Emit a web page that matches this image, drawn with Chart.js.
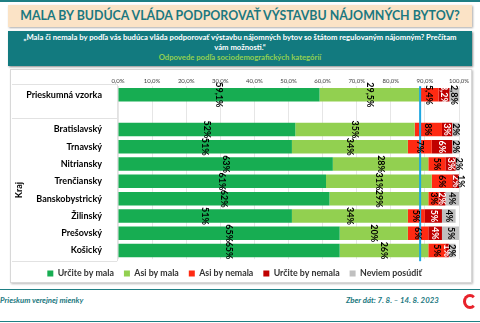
<!DOCTYPE html>
<html lang="sk">
<head>
<meta charset="UTF-8">
<title>Výstavba nájomných bytov</title>
<script src="https://cdn.jsdelivr.net/npm/chart.js@4.4.0/dist/chart.umd.min.js"></script>
<style>
  body { margin: 0; width: 480px; height: 323px; position: relative; overflow: hidden; background: #fff; font-family: Lato, "Open Sans", sans-serif; }
  .topline { position: absolute; left: 0; top: 0; width: 480px; height: 2px; background: #1f7f84; }
  .title { position: absolute; left: 8px; top: 5px; width: 464px; height: 22px; background: #fbe3c6;
           box-shadow: 1px 1px 2px #aaa; color: #1b7880; font-weight: bold; font-size: 12.4px;
           text-align: center; line-height: 22px; white-space: nowrap; }
  .question { position: absolute; left: 8px; top: 31px; width: 464px; height: 35px; background: #127a7f;
              box-shadow: 1px 1px 2px #888; color: #fff; font-weight: bold; font-size: 7.7px;
              text-align: center; line-height: 9.8px; padding-top: 2px; box-sizing: border-box; }
  .question .sub { color: #92d050; }
  .box { position: absolute; left: 10px; top: 69px; width: 462px; height: 214px; background: #fff;
         border: 1px solid #d8d8d8; box-shadow: 1px 1px 2px #bbb; box-sizing: border-box; }
  .chartwrap { position: absolute; left: 10px; top: 70px; width: 462px; height: 212px; }
  .foot1 { position: absolute; left: 0; top: 289px; width: 480px; height: 1px; background: #1f7f84; }
  .foot2 { position: absolute; left: 0; top: 321px; width: 480px; height: 1px; background: #1f7f84; }
  .ftext { position: absolute; top: 295px; font-size: 7.8px; font-style: italic; font-weight: bold; color: #1b7880; white-space: nowrap; }
  .logo { position: absolute; left: 463px; top: 294px; width: 8px; height: 9px; border: 3px solid #e8222b;
          border-radius: 50%; border-right-color: transparent; }
</style>
</head>
<body>
<div class="topline"></div>
<div class="title">MALA BY BUDÚCA VLÁDA PODPOROVAŤ VÝSTAVBU NÁJOMNÝCH BYTOV?</div>
<div class="question">„Mala či nemala by podľa vás budúca vláda podporovať výstavbu nájomných bytov so štátom regulovaným nájomným? Prečítam<br>vám možnosti.“<br><span class="sub">Odpovede podľa sociodemografických kategórií</span></div>
<div class="box"></div>
<div class="chartwrap"><canvas id="barChart"></canvas></div>
<div class="foot1"></div>
<div class="foot2"></div>
<div class="ftext" style="left:0px">Prieskum verejnej mienky</div>
<div class="ftext" style="left:346px">Zber dát: 7. 8. – 14. 8. 2023</div>
<div class="logo"></div>
<script>
var categories = ["Prieskumná vzorka", "", "Bratislavský", "Trnavský", "Nitriansky", "Trenčiansky", "Banskobystrický", "Žilinský", "Prešovský", "Košický"];
var seriesNames = ["Určite by mala", "Asi by mala", "Asi by nemala", "Určite by nemala", "Neviem posúdiť"];
var seriesColors = ["#17ad52", "#92d050", "#ff2a12", "#c00000", "#c0c0c0"];
var urciteMala   = [59.1, null, 52, 51, 63, 61, 62, 51, 65, 65];
var asiMala      = [29.5, null, 35, 34, 28, 31, 29, 34, 20, 26];
var asiNemala    = [5.4,  null, 8,  7,  5,  6,  3,  5,  6,  5];
var urciteNemala = [3.2,  null, 3,  6,  3,  2,  2,  5,  4,  1];
var neviem       = [2.8,  null, 2,  2,  2,  1,  4,  4,  5,  2];
var xTicks = [0, 10, 20, 30, 40, 50, 60, 70, 80, 90, 100];
var refLine = 88.6;
var groupLabel = "Kraj";

var allSeries = [urciteMala, asiMala, asiNemala, urciteNemala, neviem];
var datasets = [];
for (var i = 0; i < allSeries.length; i++) {
    datasets.push({
        label: seriesNames[i],
        data: allSeries[i],
        backgroundColor: seriesColors[i],
        categoryPercentage: 1,
        barPercentage: 0.78
    });
}

function fmt(v, row) {
    if (row === 0) return v.toFixed(1).replace('.', ',') + '%';
    return Math.round(v) + '%';
}

var extras = {
    id: 'extras',
    afterDatasetsDraw: function (chart) {
        var ctx = chart.ctx;
        var area = chart.chartArea;
        var xs = chart.scales.x, ys = chart.scales.y;
        // reference line
        var lx = xs.getPixelForValue(refLine);
        ctx.save();
        ctx.strokeStyle = '#1ea7e1';
        ctx.lineWidth = 2;
        ctx.beginPath();
        ctx.moveTo(lx, area.top);
        ctx.lineTo(lx, area.bottom + 2);
        ctx.stroke();
        ctx.restore();
        // rotated data labels
        ctx.save();
        ctx.font = 'bold 9px Lato';
        ctx.textAlign = 'center';
        ctx.textBaseline = 'middle';
        chart.data.datasets.forEach(function (ds, di) {
            var meta = chart.getDatasetMeta(di);
            meta.data.forEach(function (el, j) {
                var v = ds.data[j];
                if (v == null) return;
                var cx = (el.x + el.base) / 2;
                ctx.save();
                ctx.translate(cx, el.y);
                ctx.rotate(Math.PI / 2);
                ctx.fillStyle = di === 3 ? '#ffffff' : '#000000';
                ctx.fillText(fmt(v, j), 0, 0);
                ctx.restore();
            });
        });
        ctx.restore();
        // label panel lines
        ctx.save();
        ctx.strokeStyle = '#e2e2e2';
        ctx.lineWidth = 1;
        var yTop = area.top - 2, yMid = ys.getPixelForValue(1) + 6, yBot = area.bottom + 2;
        [yTop, yMid, yBot].forEach(function (yy) {
            ctx.beginPath();
            ctx.moveTo(2, Math.round(yy) + 0.5);
            ctx.lineTo(area.left - 1, Math.round(yy) + 0.5);
            ctx.stroke();
        });
        ctx.beginPath();
        ctx.moveTo(area.left - 0.5, yTop);
        ctx.lineTo(area.left - 0.5, yBot);
        ctx.stroke();
        ctx.restore();
        // group label
        var gy = (ys.getPixelForValue(2) + ys.getPixelForValue(categories.length - 1)) / 2;
        ctx.save();
        ctx.translate(9, gy);
        ctx.rotate(-Math.PI / 2);
        ctx.font = 'bold 9px Lato';
        ctx.fillStyle = '#000';
        ctx.textAlign = 'center';
        ctx.textBaseline = 'middle';
        ctx.fillText(groupLabel, 0, 0);
        ctx.restore();
    }
};

var ctx = document.getElementById("barChart").getContext("2d");
var myChart = new Chart(ctx, {
    type: 'bar',
    data: { labels: categories, datasets: datasets },
    plugins: [extras],
    options: {
        indexAxis: 'y',
        responsive: true,
        maintainAspectRatio: false,
        animation: false,
        layout: { padding: { left: 0, right: 13, top: 5, bottom: -6 } },
        scales: {
            x: {
                stacked: true,
                position: 'top',
                min: 0,
                max: 100,
                afterBuildTicks: function (scale) {
                    scale.ticks = xTicks.map(function (v) { return { value: v }; });
                },
                ticks: {
                    autoSkip: false,
                    maxRotation: 0,
                    padding: 2,
                    font: { family: 'Lato', size: 6 },
                    color: '#404040',
                    callback: function (v) { return v.toFixed(1).replace('.', ',') + '%'; }
                },
                grid: { color: '#e6e6e6', drawTicks: false },
                border: { display: false }
            },
            y: {
                stacked: true,
                afterFit: function (scale) { scale.width = 108; },
                ticks: {
                    padding: 8,
                    font: { family: 'Lato', size: 9, weight: 'bold' },
                    color: '#000'
                },
                grid: { display: false },
                border: { display: false }
            }
        },
        plugins: {
            legend: {
                position: 'bottom',
                labels: {
                    boxWidth: 6,
                    boxHeight: 6,
                    padding: 10,
                    font: { family: 'Lato', size: 8.8, weight: 'bold' },
                    color: '#333'
                }
            },
            tooltip: { enabled: false }
        }
    }
});
</script>
</body>
</html>
